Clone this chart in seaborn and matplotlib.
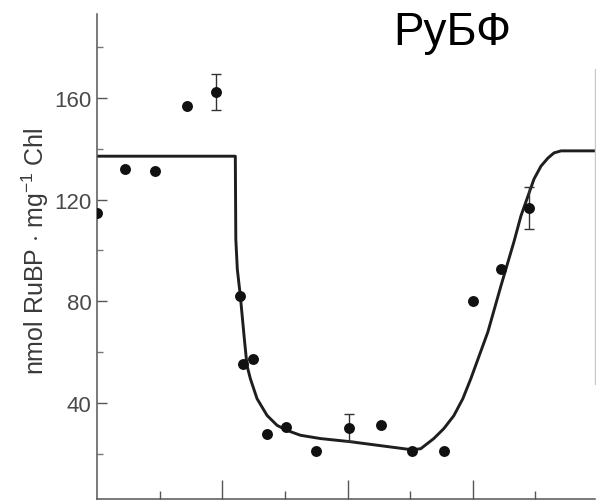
import matplotlib
matplotlib.use("Agg")
import matplotlib.pyplot as plt
import seaborn as sns
import pandas as pd

# Measured RuBP pool (time in h, nmol RuBP per mg Chl)
time_pts = [0.0, 0.448, 0.928, 1.44, 1.904, 2.288, 2.336, 2.496, 2.72, 3.024,
            3.504, 4.016, 4.528, 5.024, 5.536, 6.0, 6.448, 6.896]
rubp_pts = [114.8, 132.1, 131.3, 156.9, 162.4, 82.1, 55.4, 57.3, 27.8, 30.6,
            21.1, 30.2, 31.4, 21.1, 21.1, 80.1, 92.7, 116.7]
rubp_err = [0, 0, 0, 0, 7.0, 0, 0, 0, 0, 0,
            0, 5.3, 0, 0, 0, 0, 0, 8.3]

# Model curve
curve_t = [0.0, 2.208, 2.216, 2.24, 2.288, 2.352, 2.395, 2.448, 2.555, 2.715,
           2.875, 3.035, 3.248, 3.568, 4.032, 4.528, 5.024, 5.168, 5.376,
           5.536, 5.696, 5.84, 5.968, 6.24, 6.448, 6.656, 6.768, 6.88, 6.976,
           7.088, 7.2, 7.296, 7.408, 7.98]
curve_v = [137.1, 137.1, 104.4, 92.6, 82.1, 65.2, 54.6, 49.5, 41.6, 35.0,
           31.1, 29.1, 27.2, 25.9, 24.7, 23.1, 21.5, 21.9, 25.9,
           29.8, 34.9, 41.6, 49.5, 67.9, 86.0, 103.4, 113.6, 121.4, 128.1,
           133.2, 136.4, 138.4, 139.2, 139.2]

y_major = [40, 80, 120, 160]
y_minor = [20, 60, 100, 140, 180]
x_major = [2, 4, 6]
x_minor = [1, 3, 5, 7]

title_text = "РуБФ"
ylabel_text = r"nmol RuBP $\cdot$ mg$^{-1}$ Chl"

sns.set_style("ticks")
plt.rcParams["font.family"] = ["Liberation Sans", "DejaVu Sans"]
plt.rcParams["mathtext.fontset"] = "custom"
plt.rcParams["mathtext.rm"] = "Liberation Sans"
plt.rcParams["mathtext.it"] = "Liberation Sans:italic"

fig = plt.figure(figsize=(5.96, 5.02), dpi=100)
ax = fig.add_axes([97 / 596, 2 / 502, (595 - 97) / 596, (500 - 15) / 502])

pts = pd.DataFrame({"t": time_pts, "v": rubp_pts, "e": rubp_err})
curve = pd.DataFrame({"t": curve_t, "v": curve_v})

sns.lineplot(data=curve, x="t", y="v", sort=False, color="#1e1e1e",
             linewidth=2.1, ax=ax, zorder=2)
sns.scatterplot(data=pts, x="t", y="v", color="#111111", s=62,
                edgecolor="#111111", linewidth=0, ax=ax, zorder=3)

eb = pts[pts["e"] > 0]
ax.errorbar(eb["t"], eb["v"], yerr=eb["e"], fmt="none", ecolor="#333333",
            elinewidth=1.0, capsize=3.8, capthick=1.0, zorder=2)

ax.set_xlim(0, 7.95)
ax.set_ylim(2.1, 193.1)

ax.set_xticks(x_major)
ax.set_xticks(x_minor, minor=True)
ax.set_xticklabels([])
ax.set_yticks(y_major)
ax.set_yticks(y_minor, minor=True)
ax.set_yticklabels([str(v) for v in y_major])

ax.tick_params(axis="x", which="major", direction="in", length=14,
               width=1.0, color="#555555")
ax.tick_params(axis="x", which="minor", direction="in", length=6,
               width=1.0, color="#555555")
ax.tick_params(axis="y", which="major", direction="in", length=7,
               width=1.0, color="#555555", pad=4, labelsize=16,
               labelcolor="#4a4a4a")
ax.tick_params(axis="y", which="minor", direction="in", length=4,
               width=1.0, color="#777777")

for side in ["top", "right"]:
    ax.spines[side].set_visible(False)
for side in ["left", "bottom"]:
    ax.spines[side].set_color("#555555")
    ax.spines[side].set_linewidth(1.1)

# faint right frame edge
ax.axvline(7.95, ymin=(500 - 385) / 485, ymax=(500 - 70) / 485,
           color="#c8c8c8", linewidth=1.0, clip_on=False)

ax.set_xlabel("")
ax.set_ylabel("")

fig.text(35 / 596, 1 - 251 / 502, ylabel_text, rotation=90, ha="center",
         va="center", fontsize=18, color="#3a3a3a")
fig.text(452 / 596, 1 - 45 / 502, title_text, ha="center", va="baseline",
         fontsize=33, color="black")

fig.savefig("out.png", dpi=100)
